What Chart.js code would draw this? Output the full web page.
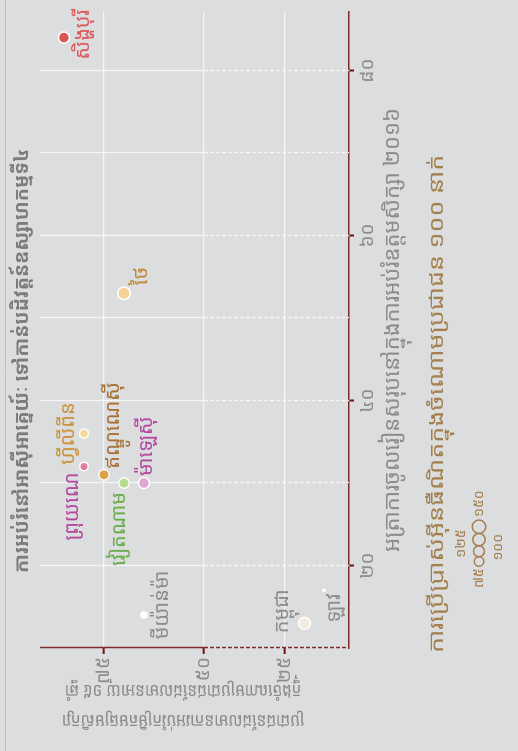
<!DOCTYPE html>
<html lang="km">
<head>
<meta charset="utf-8">
<script src="https://cdn.jsdelivr.net/npm/chart.js@4.4.1/dist/chart.umd.min.js"></script>
<style>
  html, body { margin: 0; padding: 0; background: #dcdddf; overflow: hidden; }
  /* chart is laid out landscape, then turned a quarter left like the reference */
  #stage {
    position: absolute; left: 0; top: 0;
    width: 751px; height: 518px;
    transform-origin: 0 0;
    transform: translate(0, 751px) rotate(-90deg);
    background: #dcdddf;
  }
</style>
</head>
<body>
<div id="stage"><canvas id="chart" width="751" height="518"></canvas></div>
<script>
// Southeast Asia: tertiary enrolment vs. score, bubble = internet use

const COUNTRIES = ['សិង្ហបុរី', 'ថៃ', 'ហ្វីលីពីន', 'ព្រុយណេ', 'ឥណ្ឌូណេស៊ី', 'វៀតណាម', 'ម៉ាឡេស៊ី', 'មីយ៉ាន់ម៉ា', 'កម្ពុជា', 'ឡាវ'];
const ENROLMENT = [84, 53, 36, 32, 31, 30, 30, 14, 13, 17];
const SCORE = [85, 70, 80, 80, 75, 70, 65, 65, 19, 13];
const INTERNET = [102, 129, 68, 60, 91, 91, 102, 31, 117, 5];

const X_TICKS = [20, 30, 40, 50, 60, 70, 80];
const X_LABELED = [20, 40, 60, 80];
const Y_TICKS = [25, 50, 75];
const SIZE_LEGEND = [75, 100, 125, 150];

const TITLE = 'ការអប់រំនៅអាស៊ីអាគ្នេយ៍ៈ ទៅកាន់បដិវត្តន៍ឧស្សាហកម្មទី៤';
const X_TITLE = 'អត្រាការចូលរៀនសរុបនៅក្នុងការអប់រំឧត្តមសិក្សា ២០១៦';
const Y_TITLE = ['ប្រជាជនដែលមានការអប់រំកម្រិតមធ្យមសិក្សា', 'ក្នុងចំណោមប្រជាជនដែលមានអាយុ ១៥ ឆ្នាំ'];
const SIZE_TITLE = 'ការប្រើប្រាស់អ៊ីនធឺណិតក្នុងចំណោមប្រជាជន ១០០ នាក់';

const DOT_COLORS = ['#dc5555', '#f6d394', '#f6d896', '#e07f9c', '#dba246', '#b6dc8e', '#dea6d2', '#ffffff', '#f2eadf', '#f4efe6'];
const LABEL_COLORS = ['#dc5a5a', '#c0893a', '#c9943c', '#b4489e', '#a87032', '#6aac4a', '#b4489e', '#8c8c8c', '#8c8c8c', '#8c8c8c'];
// label placement relative to its bubble: [dx, dy, align]
const LABEL_POS = [
  [3, 19, 'center'], [8, 17, 'left'], [0, -16, 'center'], [-6, -12, 'right'], [6, 9, 'left'],
  [-9, -5, 'right'], [7, 2, 'left'], [10, 18, 'center'], [12, -22, 'center'], [-3, 10, 'right'],
];

const FONT = '"Noto Sans Khmer", "Khmer OS System", "Khmer OS", "Noto Sans", sans-serif';
const AXIS_RED = '#7d2b2b';
const GREY = '#8c8c8c';
const TAN = '#a3804f';

// the value axis is broken at 50: above it a unit takes more room than below
const BREAK = 50;
const STRETCH = 1.2346;
const toT = (v) => (v <= BREAK ? v : BREAK + (v - BREAK) * STRETCH);
const fromT = (t) => (t <= BREAK ? t : BREAK + (t - BREAK) / STRETCH);

const radius = (v) => 0.55 * Math.sqrt(v);

function km(n) {
  return String(n).replace(/[0-9]/g, (d) => '០១២៣៤៥៦៧៨៩'[d]);
}

function text(ctx, str, x, y, font, color, align, rot, sx) {
  ctx.save();
  ctx.font = font;
  ctx.fillStyle = color;
  ctx.textAlign = align || 'left';
  ctx.textBaseline = 'middle';
  ctx.translate(x, y);
  if (rot) ctx.rotate(rot);
  if (sx) ctx.scale(sx, 1);
  ctx.fillText(str, 0, 0);
  ctx.restore();
}

const decor = {
  id: 'decor',
  beforeDraw(chart) {
    const ctx = chart.ctx;
    ctx.save();
    ctx.fillStyle = '#dcdddf';
    ctx.fillRect(0, 0, chart.width, chart.height);
    ctx.strokeStyle = '#a9c4e8';
    ctx.lineWidth = 1;
    ctx.beginPath();
    ctx.moveTo(0, 5.5);
    ctx.lineTo(chart.width, 5.5);
    ctx.stroke();
    ctx.restore();
  },
  beforeDatasetsDraw(chart) {
    const { ctx, chartArea: a, scales: { x, y } } = chart;
    const yb = y.getPixelForValue(toT(BREAK));
    ctx.save();
    ctx.lineWidth = 1.3;
    ctx.strokeStyle = '#f6f6f6';
    X_TICKS.forEach((v) => {
      const px = Math.round(x.getPixelForValue(v)) + 0.5;
      ctx.setLineDash([]);
      ctx.beginPath(); ctx.moveTo(px, a.top); ctx.lineTo(px, yb); ctx.stroke();
      ctx.setLineDash([4, 2]);
      ctx.beginPath(); ctx.moveTo(px, yb); ctx.lineTo(px, a.bottom); ctx.stroke();
    });
    // value axis line, dashed through the broken part
    const ax = a.left + 0.5;
    ctx.strokeStyle = AXIS_RED;
    ctx.lineWidth = 1.5;
    ctx.setLineDash([]);
    ctx.beginPath(); ctx.moveTo(ax, a.top); ctx.lineTo(ax, yb); ctx.stroke();
    ctx.setLineDash([4, 2]);
    ctx.beginPath(); ctx.moveTo(ax, yb); ctx.lineTo(ax, a.bottom); ctx.stroke();
    ctx.restore();
  },
  afterDatasetsDraw(chart) {
    const { ctx, chartArea: a } = chart;
    const meta = chart.getDatasetMeta(0);
    meta.data.forEach((pt, i) => {
      const [dx, dy, align] = LABEL_POS[i];
      text(ctx, COUNTRIES[i], pt.x + dx, pt.y + dy, '20px ' + FONT, LABEL_COLORS[i], align);
    });

    text(ctx, TITLE, 178, 22, '700 19.5px ' + FONT, '#7c7c7c', 'left');
    text(ctx, X_TITLE, (a.left + a.right) / 2, 393, '22px ' + FONT, GREY, 'center');
    text(ctx, Y_TITLE[0], 31, 183, '18px ' + FONT, GREY, 'center', -Math.PI / 2, 0.85);
    text(ctx, Y_TITLE[1], 61, 183, '18px ' + FONT, GREY, 'center', -Math.PI / 2, 0.85);
    text(ctx, SIZE_TITLE, 98, 437, '21px ' + FONT, TAN, 'left', 0, 1.2);

    // size key: circles in a row, touching
    const cy = 479;
    let cx = 189.5;
    const centers = [];
    SIZE_LEGEND.forEach((v, i) => {
      const r = radius(v);
      if (i > 0) cx += radius(SIZE_LEGEND[i - 1]) + r;
      centers.push(cx);
      ctx.save();
      ctx.strokeStyle = TAN;
      ctx.lineWidth = 1.5;
      ctx.beginPath(); ctx.arc(cx, cy, r, 0, Math.PI * 2); ctx.stroke();
      ctx.restore();
    });
    const f = '14px ' + FONT;
    text(ctx, km(SIZE_LEGEND[0]), centers[0] - radius(SIZE_LEGEND[0]) - 2, cy, f, TAN, 'right');
    text(ctx, km(SIZE_LEGEND[1]), centers[1] + 4, cy + 19, f, TAN, 'center');
    text(ctx, km(SIZE_LEGEND[2]), centers[2] - 4, cy - 18, f, TAN, 'center');
    text(ctx, km(SIZE_LEGEND[3]), centers[3] + radius(SIZE_LEGEND[3]) + 3, cy, f, TAN, 'left');
  },
};

new Chart(document.getElementById('chart'), {
  type: 'bubble',
  data: {
    datasets: [{
      data: COUNTRIES.map((c, i) => ({ x: ENROLMENT[i], y: toT(SCORE[i]), r: radius(INTERNET[i]) })),
      backgroundColor: DOT_COLORS,
      borderColor: '#ffffff',
      borderWidth: 1.5,
      hoverRadius: 0,
    }],
  },
  options: {
    responsive: false,
    animation: false,
    events: [],
    layout: { padding: { top: 40, right: 12, left: 0, bottom: 0 } },
    plugins: { legend: { display: false }, tooltip: { enabled: false } },
    scales: {
      x: {
        type: 'linear',
        min: 10,
        max: 87.1,
        afterFit: (s) => { s.height = 518 - 349; },
        afterBuildTicks: (s) => { s.ticks = X_TICKS.map((v) => ({ value: v })); },
        ticks: {
          autoSkip: false,
          maxRotation: 0,
          padding: 2,
          color: GREY,
          font: { family: FONT, size: 19 },
          callback: (v) => (X_LABELED.includes(v) ? km(v) : ''),
        },
        grid: {
          drawOnChartArea: false,
          drawTicks: true,
          tickLength: 5,
          tickWidth: 2,
          tickColor: (c) => (c.tick && X_LABELED.includes(c.tick.value) ? '#6e1414' : 'rgba(0,0,0,0)'),
        },
        border: { display: true, color: AXIS_RED, width: 1.5 },
      },
      y: {
        type: 'linear',
        min: 5.25,
        max: 100.6,
        afterFit: (s) => { s.width = 103; },
        afterBuildTicks: (s) => { s.ticks = Y_TICKS.map((v) => ({ value: toT(v) })); },
        ticks: {
          autoSkip: false,
          padding: 3,
          color: GREY,
          font: { family: FONT, size: 19 },
          callback: (t) => km(Math.round(fromT(t))),
        },
        grid: {
          color: '#f6f6f6',
          lineWidth: 1.3,
          drawTicks: true,
          tickLength: 6,
          tickWidth: 2,
          tickColor: '#6e1414',
        },
        border: { display: false },
      },
    },
  },
  plugins: [decor],
});
</script>
</body>
</html>
